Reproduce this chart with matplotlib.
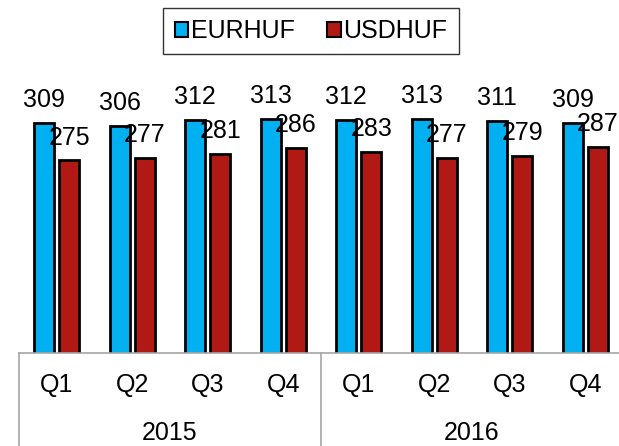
import matplotlib
matplotlib.use("Agg")
import matplotlib.pyplot as plt
import matplotlib.transforms as mtransforms
import numpy as np

quarters = ["Q1", "Q2", "Q3", "Q4", "Q1", "Q2", "Q3", "Q4"]
years = ["2015", "2016"]
eurhuf = [309, 306, 312, 313, 312, 313, 311, 309]
usdhuf = [275, 277, 281, 286, 283, 277, 279, 287]

BLUE = "#00B0F0"
RED = "#B11A14"
GRID = "#A6A6A6"

plt.rcParams["font.family"] = ["Liberation Sans", "DejaVu Sans"]
FS = 18

W, H = 619, 446
fig = plt.figure(figsize=(W / 100, H / 100), dpi=100)

# axes placed in pixel terms: baseline at y=353, category width ~75.5 px
left_px, cat_px = 19, 75.5
base_px, top_px = 353, 70
ax = fig.add_axes([left_px / W, 1 - base_px / H, 8 * cat_px / W, (base_px - top_px) / H])

scale = 1.1  # px per unit
ymin = 100
ax.set_ylim(ymin, ymin + (base_px - top_px) / scale)
ax.set_xlim(-0.5, 7.5)

x = np.arange(len(quarters))
bw, off = 0.27, 0.165
b1 = ax.bar(x - off, eurhuf, bw, color=BLUE, edgecolor="black", linewidth=2, label="EURHUF")
b2 = ax.bar(x + off, usdhuf, bw, color=RED, edgecolor="black", linewidth=2, label="USDHUF")

for bars, vals in ((b1, eurhuf), (b2, usdhuf)):
    for r, v in zip(bars, vals):
        ax.annotate(str(v), (r.get_x() + r.get_width() / 2, v), xytext=(0, 11.5),
                    textcoords="offset points", ha="center", va="baseline", fontsize=FS)

for s in ["left", "right", "top"]:
    ax.spines[s].set_visible(False)
ax.spines["bottom"].set_color(GRID)
ax.spines["bottom"].set_linewidth(1.2)
ax.set_yticks([])
ax.set_xticks([])

# category labels
tr = mtransforms.blended_transform_factory(ax.transData, fig.transFigure)
for xi, q in zip(x, quarters):
    ax.text(xi, 1 - 385 / H, q, transform=tr, ha="center", va="center", fontsize=FS)
for i, yr in enumerate(years):
    ax.text(1.5 + 4 * i, 1 - 433 / H, yr, transform=tr, ha="center", va="center", fontsize=FS)
for xs in (-0.5, 3.5, 7.5):
    ax.plot([xs, xs], [1 - base_px / H, 0], transform=tr, color=GRID, lw=1.2, clip_on=False)

leg = fig.legend(handles=[b1, b2], loc="center", bbox_to_anchor=(311 / W, 1 - 31 / H),
                 ncol=2, fontsize=FS, frameon=True, fancybox=False, edgecolor="black",
                 handlelength=0.55, handleheight=0.55, handletextpad=0.1, columnspacing=1.3,
                 borderpad=0.45)
leg.get_frame().set_linewidth(1.0)
for h in leg.legend_handles:
    h.set_linewidth(1.5)

fig.savefig("out.png", dpi=100)
